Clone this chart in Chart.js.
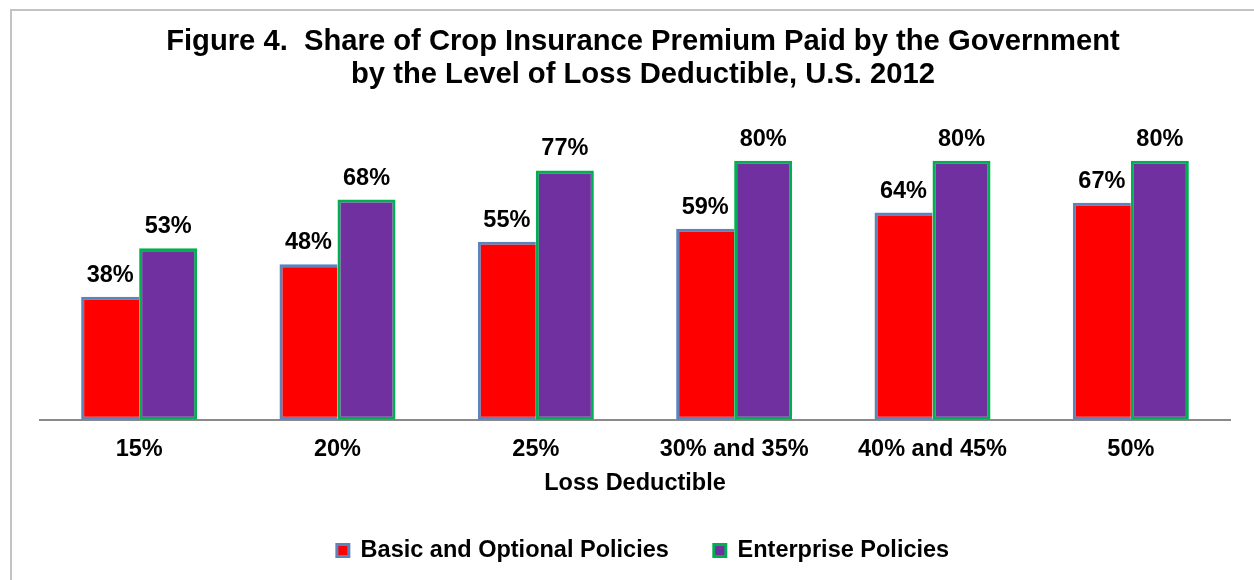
<!DOCTYPE html>
<html lang="en">
<head>
  <meta charset="UTF-8" />
  <title>Share of Crop Insurance Premium Paid by the Government</title>
  <script src="https://cdn.jsdelivr.net/npm/chart.js"></script>
  <style>
    html, body {
      margin: 0;
      padding: 0;
      background: #fff;
      overflow: hidden;
    }
    .frame {
      position: absolute;
      left: 10px;
      top: 9px;
      width: 1400px;
      height: 700px;
      border: 2px solid #c3c3c3;
    }
    .chart-box {
      position: absolute;
      left: 0;
      top: 0;
      width: 1254px;
      height: 580px;
    }
  </style>
</head>
<body>
  <div class="frame"></div>
  <div class="chart-box"><canvas id="chart"></canvas></div>

  <script>
    // loss deductible levels on the x axis
    const categories = ['15%', '20%', '25%', '30% and 35%', '40% and 45%', '50%'];
    // premium share paid by the government (%)
    const basicShare = [38, 48, 55, 59, 64, 67];
    const enterpriseShare = [53, 68, 77, 80, 80, 80];

    const FONT = '"Liberation Sans", Arial, sans-serif';

    // percent labels above every bar
    const barLabels = {
      id: 'barLabels',
      afterDatasetsDraw(chart) {
        const ctx = chart.ctx;
        ctx.save();
        ctx.font = 'bold 23.5px ' + FONT;
        ctx.fillStyle = '#000';
        ctx.textAlign = 'center';
        ctx.textBaseline = 'alphabetic';
        chart.data.datasets.forEach((ds, i) => {
          chart.getDatasetMeta(i).data.forEach((bar, j) => {
            ctx.fillText(ds.data[j] + '%', bar.x, bar.y - 15);
          });
        });
        ctx.restore();
      }
    };

    new Chart(document.getElementById('chart').getContext('2d'), {
      type: 'bar',
      data: {
        labels: categories,
        datasets: [
          {
            label: 'Basic and Optional Policies',
            data: basicShare,
            backgroundColor: '#ff0000',
            borderColor: '#5b84be',
            borderWidth: 3,
            borderSkipped: 'right'
          },
          {
            label: 'Enterprise Policies',
            data: enterpriseShare,
            backgroundColor: '#7030a0',
            borderColor: '#00b050',
            borderWidth: 3,
            borderSkipped: false
          }
        ]
      },
      options: {
        responsive: true,
        maintainAspectRatio: false,
        animation: false,
        layout: { padding: { left: 32, right: 0, top: 0, bottom: 7.75 } },
        datasets: {
          bar: { categoryPercentage: 0.585, barPercentage: 1 }
        },
        scales: {
          x: {
            grid: { display: false, drawTicks: false },
            border: { display: true, color: '#8a8a8a', width: 2 },
            ticks: {
              color: '#000',
              padding: 16,
              font: { family: FONT, size: 23.5, weight: 'bold' }
            },
            title: {
              display: true,
              text: 'Loss Deductible',
              color: '#000',
              padding: 0,
              font: { family: FONT, size: 23.5, weight: 'bold', lineHeight: 0.85 }
            },
            afterFit(scale) { scale.height = 74; }
          },
          y: {
            min: 0,
            max: 100,
            grid: { display: false },
            border: { display: false },
            ticks: { display: false },
            afterFit(scale) { scale.width = 8; }
          },
          yRight: {
            position: 'right',
            min: 0,
            max: 100,
            grid: { display: false },
            border: { display: false },
            ticks: { display: false },
            afterFit(scale) { scale.width = 24; }
          }
        },
        plugins: {
          title: {
            display: true,
            text: ['Figure 4.  Share of Crop Insurance Premium Paid by the Government',
                   'by the Level of Loss Deductible, U.S. 2012'],
            color: '#000',
            padding: { top: 25, bottom: 5 },
            font: { family: FONT, size: 29.2, weight: 'bold', lineHeight: 1.13 }
          },
          legend: {
            position: 'bottom',
            labels: {
              color: '#000',
              boxWidth: 12,
              boxHeight: 12,
              padding: 45,
              font: { family: FONT, size: 23.5, weight: 'bold' }
            }
          },
          tooltip: { enabled: false }
        }
      },
      plugins: [barLabels]
    });
  </script>
</body>
</html>
